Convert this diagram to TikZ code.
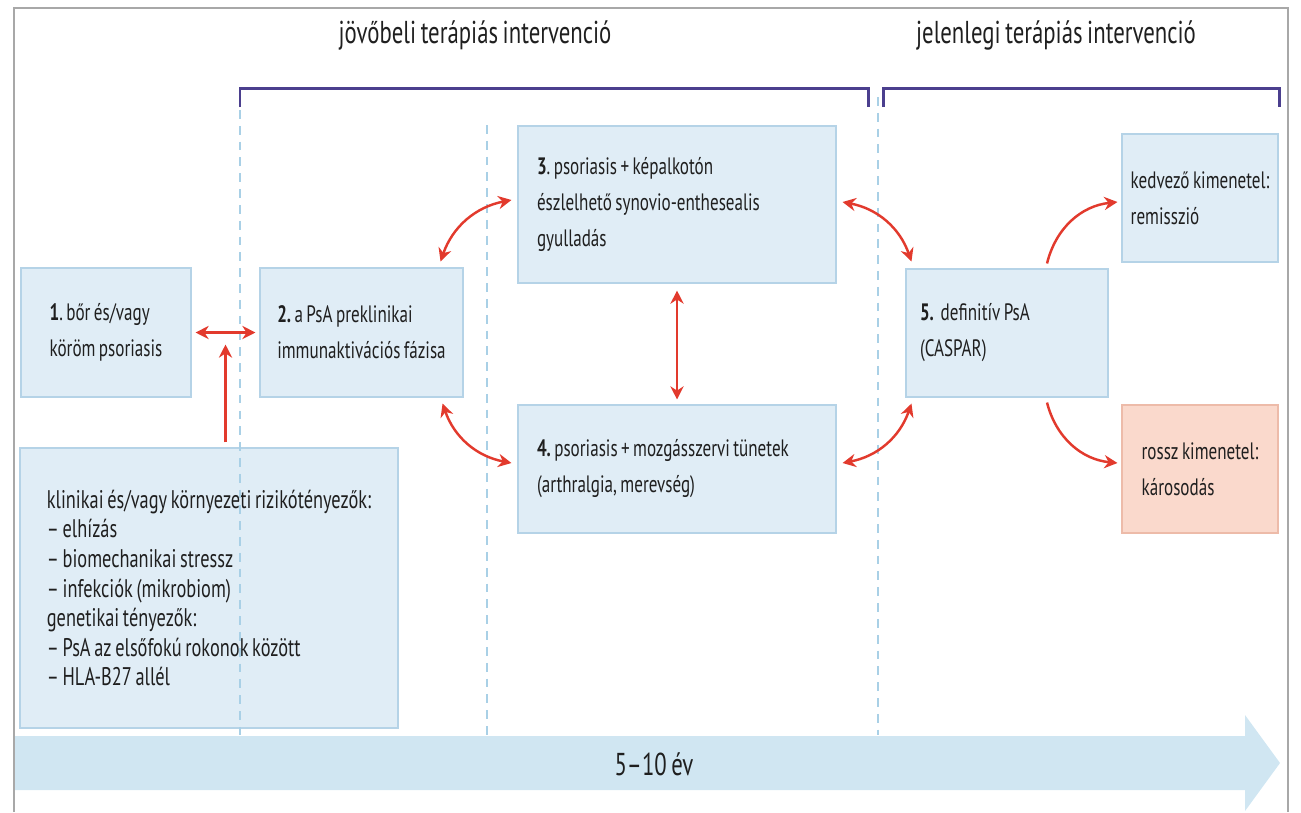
\documentclass[tikz,border=0pt]{standalone}
\usepackage{fontspec}
\setmainfont{PT Sans}[FakeStretch=0.72, WordSpace=0.75]
\frenchspacing
\usetikzlibrary{arrows.meta,calc}
\definecolor{boxfill}{HTML}{E0EDF6}
\definecolor{boxline}{HTML}{B5D3E7}
\definecolor{badfill}{HTML}{FAD9CC}
\definecolor{badline}{HTML}{EDBBA9}
\definecolor{timefill}{HTML}{D0E6F2}
\definecolor{bracketc}{HTML}{4B3F8E}
\definecolor{guidec}{HTML}{A9D0E6}
\definecolor{framec}{HTML}{A8A8A8}
\definecolor{txt}{HTML}{1F1F1F}
\definecolor{linkred}{HTML}{E23A2D}
\tikzset{
  statebox/.style = {align=flush left, inner sep=0pt, draw=boxline, fill=boxfill, line width=0.6pt, text=txt, font=\fontsize{13.5}{20.5}\selectfont},
  badbox/.style = {draw=badline, fill=badfill},
  riskfont/.style = {font=\fontsize{14.5}{16.8}\selectfont},
  headtext/.style = {text=txt, inner sep=0pt, font=\fontsize{18}{22}\selectfont},
  bracket/.style = {draw=bracketc, line width=1.7pt},
  guide/.style = {draw=guidec, line width=0.6pt, dash pattern=on 5pt off 4pt},
  link/.style = {draw=linkred, line width=1.4pt, {Stealth[length=7.5pt,width=7.5pt]}-{Stealth[length=7.5pt,width=7.5pt]}},
  link1/.style = {draw=linkred, line width=1.4pt, -{Stealth[length=7.5pt,width=7.5pt]}},
}
\begin{document}
\begin{tikzpicture}
  \useasboundingbox (0,0) rectangle (26.02,-16.24);
  % frame and time axis
  \draw[framec, line width=0.8pt] (0.28,-16.24) -- (0.28,-0.16) -- (25.76,-0.16) -- (25.76,-16.24);
  \fill[timefill] (0.3,-14.72) -- (24.9,-14.72) -- (24.9,-14.30) -- (25.6,-15.26) -- (24.9,-16.22) -- (24.9,-15.80) -- (0.3,-15.80) -- cycle;
  \node (time) [headtext] at (13.08,-15.28) {5--10 év};

  % headers
  \node (future) [headtext] at (9.5,-0.70) {jövőbeli terápiás intervenció};
  \node (present) [headtext] at (21.12,-0.70) {jelenlegi terápiás intervenció};
  \draw[bracket] (4.80,-2.14) -- (4.80,-1.76) -- (17.36,-1.76) -- (17.36,-2.14);
  \draw[bracket] (17.66,-2.14) -- (17.66,-1.76) -- (25.58,-1.76) -- (25.58,-2.14);

  % stages
  \node (b1) [statebox, minimum width=3.40cm, minimum height=2.58cm] at (2.12,-6.65)
    {\textbf{1}. bőr és/vagy\\köröm psoriasis};
  \node (b2) [statebox, minimum width=4.06cm, minimum height=2.58cm] at (7.23,-6.65)
    {\textbf{2.} a PsA preklinikai\\immunaktivációs fázisa};
  \node (b3) [statebox, minimum width=6.36cm, minimum height=3.14cm, text width=5.6cm] at (13.54,-4.09)
    {\textbf{3}. psoriasis + képalkotón\\észlelhető synovio-enthesealis\\gyulladás};
  \node (b4) [statebox, minimum width=6.36cm, minimum height=2.56cm, text width=5.6cm] at (13.54,-9.38)
    {\textbf{4.} psoriasis + mozgásszervi tünetek\\(arthralgia, merevség)};
  \node (b5) [statebox, minimum width=4.04cm, minimum height=2.56cm, text width=3.48cm] at (20.14,-6.66)
    {\textbf{5.}\ \ definitív PsA\\(CASPAR)};
  \node (good) [statebox, minimum width=3.12cm, minimum height=2.56cm] at (24.0,-3.96)
    {kedvező kimenetel:\\remisszió};
  \node (bad) [statebox, badbox, minimum width=3.12cm, minimum height=2.56cm] at (24.0,-9.38)
    {rossz kimenetel:\\károsodás};
  \node (risk) [statebox, riskfont, minimum width=7.56cm, minimum height=5.60cm] at (4.18,-11.76)
    {klinikai és/vagy környezeti rizikótényezők:\\-- elhízás\\-- biomechanikai stressz\\-- infekciók (mikrobiom)\\genetikai tényezők:\\-- PsA az elsőfokú rokonok között\\-- HLA-B27 allél};

  % phase borders
  \draw[guide] (4.80,-2.2) -- (4.80,-14.7);
  \draw[guide] (9.74,-2.5) -- (9.74,-14.7);
  \draw[guide] (17.56,-1.94) -- (17.56,-14.7);

  % links
  \coordinate (join) at ($(b1.east)!0.5!(b2.west)+(0,-0.24)$);
  \draw[link] ([xshift=0.08cm]b1.east) -- ([xshift=-0.08cm]b2.west);
  \draw[link1] ($(risk.north -| join)+(0,0.1)$) -- (join);
  \draw[link] ([xshift=-0.46cm,yshift=0.12cm]b2.north east) to[bend left=30] ([xshift=-0.12cm,yshift=0.09cm]b3.west);
  \draw[link] ([xshift=-0.42cm,yshift=-0.12cm]b2.south east) to[bend right=30] ([xshift=-0.12cm,yshift=0.12cm]b4.west);
  \draw[link] ([yshift=-0.14cm]b3.south) -- ([yshift=0.1cm]b4.north);
  \draw[link] ([xshift=0.12cm,yshift=0.05cm]b3.east) to[bend left=30] ([xshift=0.12cm,yshift=0.14cm]b5.north west);
  \draw[link] ([xshift=0.12cm,yshift=0.12cm]b4.east) to[bend right=30] ([xshift=0.12cm,yshift=-0.12cm]b5.south west);
  \draw[link1] ([xshift=0.8cm,yshift=0.1cm]b5.north) to[bend left=35] ([xshift=-0.08cm,yshift=-0.08cm]good.west);
  \draw[link1] ([xshift=0.8cm,yshift=-0.1cm]b5.south) to[bend right=35] ([xshift=-0.08cm,yshift=0.12cm]bad.west);
\end{tikzpicture}
\end{document}
